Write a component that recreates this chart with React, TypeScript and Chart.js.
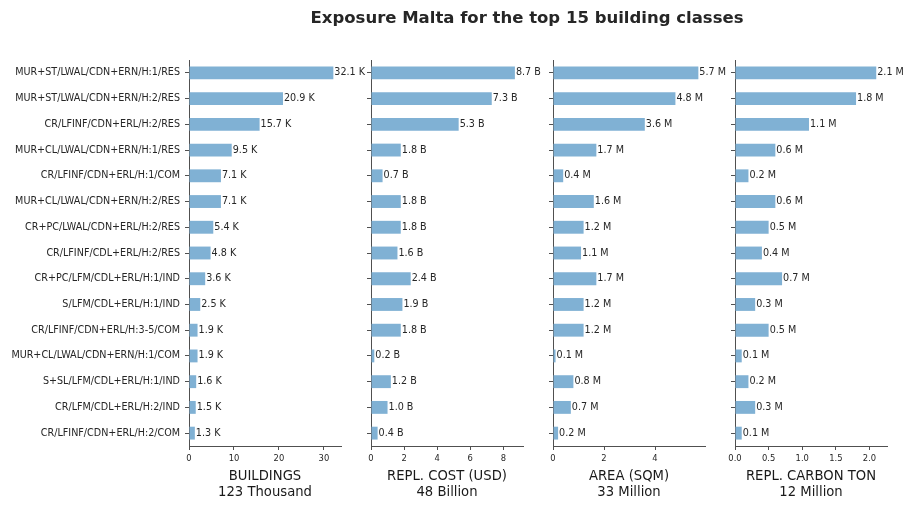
import React, { useEffect, useRef } from "react";
import { Chart, registerables } from "chart.js";

Chart.register(...registerables);

const TITLE = "Exposure Malta for the top 15 building classes";

const CATEGORIES = [
  "MUR+ST/LWAL/CDN+ERN/H:1/RES",
  "MUR+ST/LWAL/CDN+ERN/H:2/RES",
  "CR/LFINF/CDN+ERL/H:2/RES",
  "MUR+CL/LWAL/CDN+ERN/H:1/RES",
  "CR/LFINF/CDN+ERL/H:1/COM",
  "MUR+CL/LWAL/CDN+ERN/H:2/RES",
  "CR+PC/LWAL/CDN+ERL/H:2/RES",
  "CR/LFINF/CDL+ERL/H:2/RES",
  "CR+PC/LFM/CDL+ERL/H:1/IND",
  "S/LFM/CDL+ERL/H:1/IND",
  "CR/LFINF/CDN+ERL/H:3-5/COM",
  "MUR+CL/LWAL/CDN+ERN/H:1/COM",
  "S+SL/LFM/CDL+ERL/H:1/IND",
  "CR/LFM/CDL+ERL/H:2/IND",
  "CR/LFINF/CDN+ERL/H:2/COM",
];

// Buildings, thousands
const BUILDINGS = [32.1, 20.9, 15.7, 9.5, 7.1, 7.1, 5.4, 4.8, 3.6, 2.5, 1.9, 1.9, 1.6, 1.5, 1.3];
// Replacement cost, billion USD
const REPL_COST = [8.7, 7.3, 5.3, 1.8, 0.7, 1.8, 1.8, 1.6, 2.4, 1.9, 1.8, 0.2, 1.2, 1.0, 0.4];
// Floor area, million sqm
const AREA = [5.7, 4.8, 3.6, 1.7, 0.4, 1.6, 1.2, 1.1, 1.7, 1.2, 1.2, 0.1, 0.8, 0.7, 0.2];
// Replacement carbon, million ton
const CARBON = [2.1, 1.8, 1.1, 0.6, 0.2, 0.6, 0.5, 0.4, 0.7, 0.3, 0.5, 0.1, 0.2, 0.3, 0.1];

const BUILDINGS_TICKS = [0, 10, 20, 30];
const REPL_COST_TICKS = [0, 2, 4, 6, 8];
const AREA_TICKS = [0, 2, 4];
const CARBON_TICKS = [0, 0.5, 1.0, 1.5, 2.0];

const FONT = "'DejaVu Sans', sans-serif";
const BAR_COLOR = "rgb(128,177,212)";
const SPINE = "#505050";
const TEXT = "#262626";

const W = 918;
const H = 510;
const PLOT_TOP = 60;
const PLOT_W = 152;
const X_AXIS_H = 64;

type Panel = {
  values: number[];
  ticks: number[];
  max: number;
  unit: string;
  title: string[];
  left: number;
  decimals: number;
};

const PANELS: Panel[] = [
  { values: BUILDINGS, ticks: BUILDINGS_TICKS, max: 33.8, unit: "K", title: ["BUILDINGS", "123 Thousand"], left: 189, decimals: 0 },
  { values: REPL_COST, ticks: REPL_COST_TICKS, max: 9.19, unit: "B", title: ["REPL. COST (USD)", "48 Billion"], left: 371, decimals: 0 },
  { values: AREA, ticks: AREA_TICKS, max: 5.96, unit: "M", title: ["AREA (SQM)", "33 Million"], left: 553, decimals: 0 },
  { values: CARBON, ticks: CARBON_TICKS, max: 2.26, unit: "M", title: ["REPL. CARBON TON", "12 Million"], left: 735, decimals: 1 },
];

// Writes "<value> <unit>" just past the end of every bar
const valueLabels = {
  id: "valueLabels",
  afterDatasetsDraw(chart: any, _args: any, opts: any) {
    const ctx = chart.ctx;
    const meta = chart.getDatasetMeta(0);
    const data = chart.data.datasets[0].data as number[];
    ctx.save();
    ctx.font = `9.6px ${FONT}`;
    ctx.fillStyle = TEXT;
    ctx.textAlign = "left";
    ctx.textBaseline = "middle";
    meta.data.forEach((bar: any, i: number) => {
      ctx.fillText(`${data[i].toFixed(1)} ${opts.unit}`, bar.x + 1, bar.y);
    });
    ctx.restore();
  },
};

function PanelChart({ panel, showLabels }: { panel: Panel; showLabels: boolean }) {
  const ref = useRef<HTMLCanvasElement>(null);
  useEffect(() => {
    if (!ref.current) return;
    const chart = new Chart(ref.current, {
      type: "bar",
      data: {
        labels: CATEGORIES,
        datasets: [
          {
            data: panel.values,
            backgroundColor: BAR_COLOR,
            borderWidth: 0,
            barPercentage: 0.5,
            categoryPercentage: 1,
          },
        ],
      },
      options: {
        indexAxis: "y",
        animation: false,
        responsive: false,
        events: [],
        layout: { padding: { top: PLOT_TOP, left: 0, bottom: 0, right: W - panel.left - PLOT_W } },
        plugins: {
          legend: { display: false },
          tooltip: { enabled: false },
          valueLabels: { unit: panel.unit },
        } as any,
        scales: {
          y: {
            type: "category",
            offset: true,
            grid: { display: true, drawOnChartArea: false, tickLength: 4, color: SPINE, offset: false },
            border: { display: true, color: SPINE, width: 1 },
            ticks: { display: showLabels, color: TEXT, font: { family: FONT, size: 9.6 }, padding: 5, autoSkip: false },
            afterFit: (s: any) => {
              s.width = panel.left;
            },
          },
          x: {
            type: "linear",
            min: 0,
            max: panel.max,
            grid: { display: true, drawOnChartArea: false, tickLength: 4, color: SPINE },
            border: { display: true, color: SPINE, width: 1 },
            afterBuildTicks: (s: any) => {
              s.ticks = panel.ticks.map((v) => ({ value: v }));
            },
            ticks: {
              color: TEXT,
              font: { family: FONT, size: 8.4 },
              padding: 4,
              maxRotation: 0,
              callback: (v: any) => Number(v).toFixed(panel.decimals),
            },
            title: {
              display: true,
              text: panel.title,
              color: "#1a1a1a",
              font: { family: FONT, size: 13.2, lineHeight: 1.16 },
              padding: { top: 0, bottom: 10 },
            },
            afterFit: (s: any) => {
              s.height = X_AXIS_H;
            },
          },
        },
      } as any,
      plugins: [valueLabels],
    });
    return () => chart.destroy();
  }, [panel, showLabels]);
  return (
    <canvas
      ref={ref}
      width={W}
      height={H}
      style={{ position: "absolute", left: 0, top: 0, width: W, height: H }}
    />
  );
}

export default function App() {
  return (
    <div style={{ position: "absolute", left: 0, top: 0, width: W, height: H, background: "#fff", overflow: "hidden" }}>
      {PANELS.map((p, i) => (
        <PanelChart key={i} panel={p} showLabels={i === 0} />
      ))}
      <div
        style={{
          position: "absolute",
          left: 527,
          top: 8,
          transform: "translateX(-50%)",
          whiteSpace: "nowrap",
          fontFamily: FONT,
          fontWeight: "bold",
          fontSize: 16.5,
          lineHeight: "20px",
          color: TEXT,
        }}
      >
        {TITLE}
      </div>
    </div>
  );
}
